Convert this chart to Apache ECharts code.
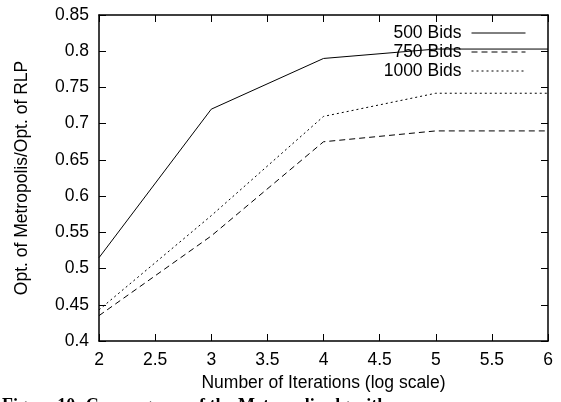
<!DOCTYPE html>
<html>
<head>
<meta charset="utf-8">
<script src="https://cdn.jsdelivr.net/npm/echarts@6/dist/echarts.min.js"></script>
<style>
  html, body { margin: 0; padding: 0; background: #fff; }
  #chart { width: 561px; height: 402px; }
</style>
</head>
<body>
<div id="chart"></div>
<script>
// iterations (log scale)
var iterations = [2, 3, 4, 5, 6]
var bids500 = [0.515, 0.72, 0.79, 0.803, 0.803]
var bids750 = [0.435, 0.545, 0.675, 0.69, 0.69]
var bids1000 = [0.443, 0.573, 0.71, 0.742, 0.742]

var font = 'Liberation Sans, Arial, Helvetica, sans-serif'

function pairs(vals) {
  return iterations.map(function(x, i) { return [x, vals[i]] })
}

function mkLine(name, vals, dash) {
  return {
    name: name,
    type: 'line',
    data: pairs(vals),
    symbol: 'none',
    lineStyle: { color: '#000', width: 1, type: dash },
    itemStyle: { color: '#000' }
  }
}

var chart = echarts.init(document.getElementById('chart'))
var axisCommon = {
  axisLine: { lineStyle: { color: '#000', width: 1.5 } },
  axisTick: { inside: true, length: 7, lineStyle: { color: '#000', width: 1 } },
  splitLine: { show: false }
}

chart.setOption({
  animation: false,
  textStyle: { fontFamily: font },
  grid: { left: 99, right: 13, top: 15, bottom: 61 },
  legend: {
    orient: 'vertical',
    right: 30,
    top: 19,
    align: 'right',
    itemWidth: 54,
    itemHeight: 14,
    itemGap: 1,
    itemStyle: { opacity: 0 },
    lineStyle: { width: 1 },
    textStyle: { fontFamily: font, fontSize: 17.5, color: '#000', padding: [0, 5, 0, 0] },
    data: ['500 Bids', '750 Bids', '1000 Bids']
  },
  xAxis: [
    Object.assign({
      type: 'value', min: 2, max: 6, interval: 0.5,
      name: 'Number of Iterations (log scale)',
      nameLocation: 'middle', nameGap: 29,
      nameTextStyle: { fontFamily: font, fontSize: 17.5, color: '#000' },
      axisLabel: { margin: 10, fontFamily: font, fontSize: 17.5, color: '#000' }
    }, axisCommon),
    Object.assign({
      type: 'value', min: 2, max: 6, interval: 0.5, position: 'top',
      axisLabel: { show: false }
    }, axisCommon)
  ],
  yAxis: [
    Object.assign({
      type: 'value', min: 0.4, max: 0.85, interval: 0.05,
      name: 'Opt. of Metropolis/Opt. of RLP',
      nameLocation: 'middle', nameGap: 68,
      nameTextStyle: { fontFamily: font, fontSize: 17.5, color: '#000' },
      axisLabel: { margin: 10, fontFamily: font, fontSize: 17.5, color: '#000' }
    }, axisCommon),
    Object.assign({
      type: 'value', min: 0.4, max: 0.85, interval: 0.05, position: 'right',
      axisLabel: { show: false }
    }, axisCommon)
  ],
  graphic: [{
    type: 'text',
    left: 2,
    top: 397,
    style: {
      text: 'Figure 10: Convergence of the Metropolis algorithm',
      font: 'bold 18px "Liberation Serif", "Times New Roman", serif',
      fill: '#000'
    }
  }],
  series: [
    mkLine('500 Bids', bids500, 'solid'),
    mkLine('750 Bids', bids750, [6, 4]),
    mkLine('1000 Bids', bids1000, [2, 3])
  ]
})
</script>
</body>
</html>
